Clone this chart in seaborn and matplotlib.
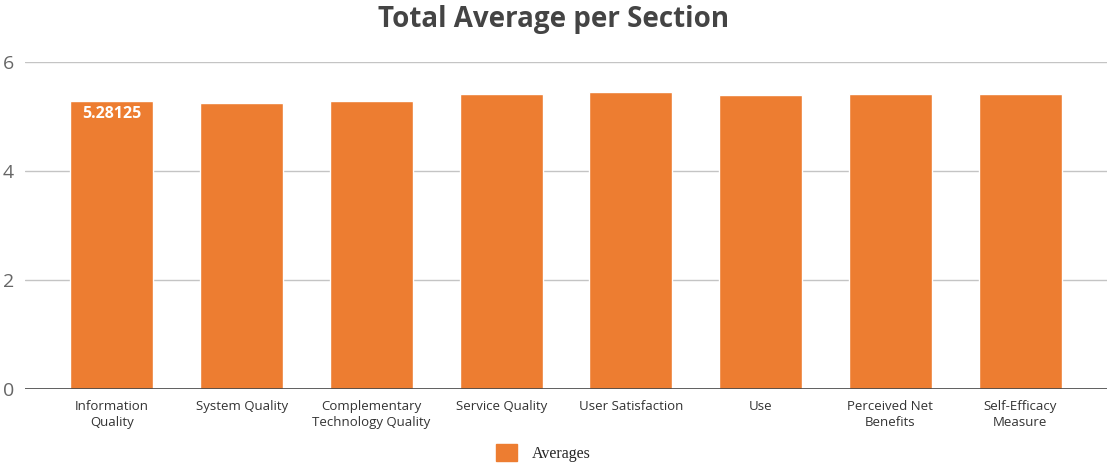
import pandas as pd
import matplotlib.pyplot as plt
import seaborn as sns

sections = ['Information\nQuality', 'System Quality', 'Complementary\nTechnology Quality',
            'Service Quality', 'User Satisfaction', 'Use', 'Perceived Net\nBenefits',
            'Self-Efficacy\nMeasure']
averages = [5.28125, 5.25, 5.28, 5.42, 5.45, 5.39, 5.42, 5.42]
yticks = [0, 2, 4, 6]

orange = '#ED7D31'

sns.set_theme(style='white')
plt.rcParams['font.family'] = ['Open Sans', 'DejaVu Sans']

df = pd.DataFrame({'Section': sections, 'Averages': averages})

fig = plt.figure(figsize=(11.07, 4.65), dpi=100)
ax = fig.add_axes([25 / 1107, 1 - 389 / 465, 1 - 25 / 1107, (389 - 62) / 465])
sns.barplot(data=df, x='Section', y='Averages', color=orange, width=0.64,
            saturation=1, ax=ax, zorder=3, label='Averages')

ax.set_ylim(0, 6)
ax.set_xlim(-0.67, 7.67)
ax.set_yticks(yticks)
ax.set_yticklabels([str(t) for t in yticks], fontsize=14, color='#666666')
ax.tick_params(axis='y', length=0, pad=8)
ax.tick_params(axis='x', length=0, pad=8, labelsize=9.5, labelcolor='#333333')
for t in ax.get_xticklabels():
    t.set_linespacing(1.25)
for y in yticks[1:]:
    ax.axhline(y, color='#c4c4c4', linewidth=1, zorder=1)
ax.axhline(0, color='#444444', linewidth=1.2, zorder=4)
for s in ax.spines.values():
    s.set_visible(False)
ax.set_xlabel('')
ax.set_ylabel('')

# value label on first bar only
ax.text(0, averages[0] - 0.24, '5.28125', ha='center', va='center', color='white',
        fontsize=11.5, fontweight='bold', zorder=5)

fig.suptitle('Total Average per Section', x=0.5, y=1 - 19 / 465, va='center',
             fontsize=20, fontweight='bold', color='#444444')

leg = ax.legend(loc='center', bbox_to_anchor=(0.479, -0.196), frameon=False,
                handlelength=1.3, handleheight=1.3, handletextpad=0.9,
                prop={'family': 'Liberation Serif', 'size': 11.5})
for h in leg.legend_handles:
    h.set_color(orange)

fig.savefig('out.png', dpi=100)
